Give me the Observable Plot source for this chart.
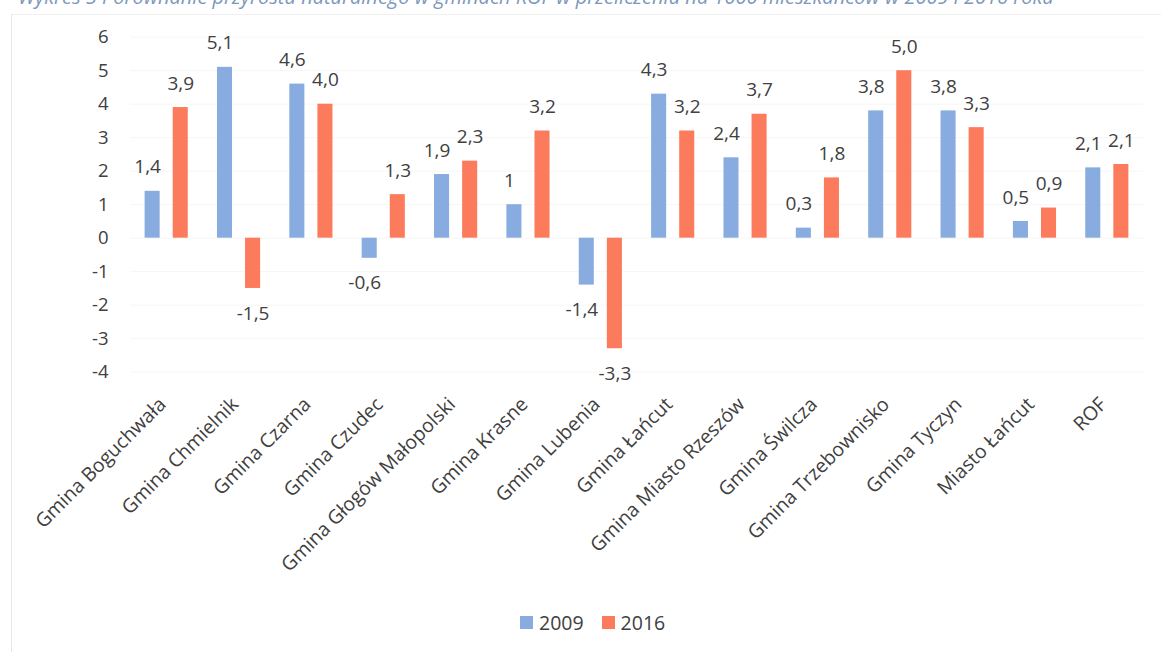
<!DOCTYPE html>
<html>
<head>
<meta charset="utf-8">
<script src="https://cdn.jsdelivr.net/npm/d3@7"></script>
<script src="https://cdn.jsdelivr.net/npm/@observablehq/plot@0.6"></script>
<style>
  body { margin: 0; background: #fff; font-family: "Open Sans", sans-serif; overflow: hidden; }
  #wrap { position: relative; width: 1161px; height: 652px; overflow: hidden; }
  #title { position: absolute; top: -17px; left: 18px; font-style: italic; font-size: 20px; line-height: 27px; color: #7d98bb; white-space: nowrap; }
  #frame { position: absolute; left: 11px; top: 14px; width: 1300px; height: 800px; border-left: 1px solid #e6e6e6; border-top: 1px solid #f0f0f0; }
  #chart { position: absolute; top: 0; left: 0; }
  #legend { position: absolute; top: 610px; left: 520px; display: flex; align-items: center; font-size: 19.5px; color: #404040; height: 24px; }
  #legend .sw { display: inline-block; width: 13px; height: 13px; margin-right: 6px; }
  #legend .item { display: flex; align-items: center; margin-right: 18px; }
</style>
</head>
<body>
<div id="wrap">
  <div id="frame"></div>
  <div id="title">Wykres 5 Porównanie przyrostu naturalnego w gminach ROF w przeliczeniu na 1000 mieszkańców w 2009 i 2016 roku</div>
  <div id="chart"></div>
  <div id="legend"></div>
</div>
<script>
const categories = ["Gmina Boguchwała", "Gmina Chmielnik", "Gmina Czarna", "Gmina Czudec", "Gmina Głogów Małopolski", "Gmina Krasne", "Gmina Lubenia", "Gmina Łańcut", "Gmina Miasto Rzeszów", "Gmina Świlcza", "Gmina Trzebownisko", "Gmina Tyczyn", "Miasto Łańcut", "ROF"];
const years = ["2009", "2016"];
const values2009 = [1.4, 5.1, 4.6, -0.6, 1.9, 1.0, -1.4, 4.3, 2.4, 0.3, 3.8, 3.8, 0.5, 2.1];
const values2016 = [3.9, -1.5, 4.0, 1.3, 2.3, 3.2, -3.3, 3.2, 3.7, 1.8, 5.0, 3.3, 0.9, 2.2];
const labels2009 = ["1,4", "5,1", "4,6", "-0,6", "1,9", "1", "-1,4", "4,3", "2,4", "0,3", "3,8", "3,8", "0,5", "2,1"];
const labels2016 = ["3,9", "-1,5", "4,0", "1,3", "2,3", "3,2", "-3,3", "3,2", "3,7", "1,8", "5,0", "3,3", "0,9", "2,1"];
const yTicks = [-4, -3, -2, -1, 0, 1, 2, 3, 4, 5, 6];
const colors = ["#88acdf", "#fc7b5c"];

const data = categories.flatMap((c, i) => [
  {cat: c, year: years[0], value: values2009[i], label: labels2009[i]},
  {cat: c, year: years[1], value: values2016[i], label: labels2016[i]}
]);

const pos = (y) => data.filter(d => d.year === y && d.value >= 0);
const neg = (y) => data.filter(d => d.year === y && d.value < 0);
const lbl = {fontSize: 19, fill: "#404040"};

const chart = Plot.plot({
  width: 1161,
  height: 600,
  marginLeft: 130,
  marginRight: 18,
  marginTop: 36.7,
  marginBottom: 228.3,
  style: {fontFamily: "Open Sans", fontSize: "18.5px", color: "#404040", background: "transparent"},
  fx: {domain: categories, padding: 0, round: false, label: null},
  x: {domain: years, paddingInner: 0.464, paddingOuter: 0.52, round: false, axis: null},
  y: {domain: [-4, 6], label: null},
  color: {domain: years, range: colors},
  marks: [
    Plot.gridY(yTicks, {stroke: "#f6f6f6", strokeOpacity: 1}),
    Plot.axisY(yTicks, {tickSize: 0, tickPadding: 22, tickFormat: d => String(d), fill: "#404040"}),
    Plot.axisFx({anchor: "bottom", tickRotate: -45, tickSize: 0, tickPadding: 20, dy: 9, dx: -4, fontSize: 19.5, label: null, fill: "#404040"}),
    Plot.barY(data, {fx: "cat", x: "year", y: "value", fill: "year"}),
    Plot.text(pos("2009"), {fx: "cat", x: "year", y: "value", text: "label", dy: -24, dx: -5, ...lbl}),
    Plot.text(neg("2009"), {fx: "cat", x: "year", y: "value", text: "label", dy: 25, dx: -5, ...lbl}),
    Plot.text(pos("2016"), {fx: "cat", x: "year", y: "value", text: "label", dy: -24, ...lbl}),
    Plot.text(neg("2016"), {fx: "cat", x: "year", y: "value", text: "label", dy: 25, ...lbl})
  ]
});
document.getElementById("chart").appendChild(chart);

const legend = document.getElementById("legend");
years.forEach((y, i) => {
  const item = document.createElement("span");
  item.className = "item";
  item.innerHTML = `<span class="sw" style="background:${colors[i]}"></span>${y}`;
  legend.appendChild(item);
});
</script>
</body>
</html>
